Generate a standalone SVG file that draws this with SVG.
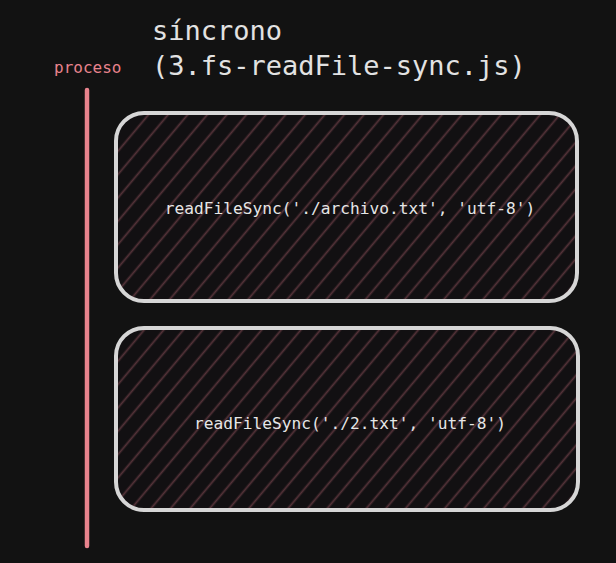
<svg xmlns="http://www.w3.org/2000/svg" width="616" height="563" viewBox="0 0 616 563">
<style>
.t{font-family:"DejaVu Sans Mono","Liberation Mono",monospace;}
.box{fill:url(#hatch);stroke:#d6d6d6;stroke-width:4;}
.lbl{fill:#e6e6e6;font-size:16.2px;}
.ttl{fill:#e2e2e2;font-size:27px;}
</style>
<defs>
<pattern id="hatch" patternUnits="userSpaceOnUse" width="15" height="15" patternTransform="rotate(-50)">
<rect width="15" height="15" fill="#121012"/>
<line x1="0" y1="7.5" x2="15" y2="7.5" stroke="#553339" stroke-width="1.8"/>
</pattern>
</defs>
<rect width="616" height="563" fill="#121212"/>
<g id="title">
<text class="t ttl" x="152" y="40">síncrono</text>
<text class="t ttl" x="152" y="75">(3.fs-readFile-sync.js)</text>
</g>
<g id="proceso">
<text class="t" x="54" y="73" fill="#e8838d" font-size="16">proceso</text>
<line x1="87" y1="90" x2="87" y2="546" stroke="#e8838d" stroke-width="4.5" stroke-linecap="round"/>
</g>
<g id="node1">
<rect class="box" x="116" y="113" width="461" height="188" rx="28"/>
<text class="t lbl" x="350" y="214" text-anchor="middle">readFileSync('./archivo.txt', 'utf-8')</text>
</g>
<g id="node2">
<rect class="box" x="116" y="328" width="462" height="182" rx="28"/>
<text class="t lbl" x="350" y="429" text-anchor="middle">readFileSync('./2.txt', 'utf-8')</text>
</g>
<g id="connectors"></g>
</svg>
